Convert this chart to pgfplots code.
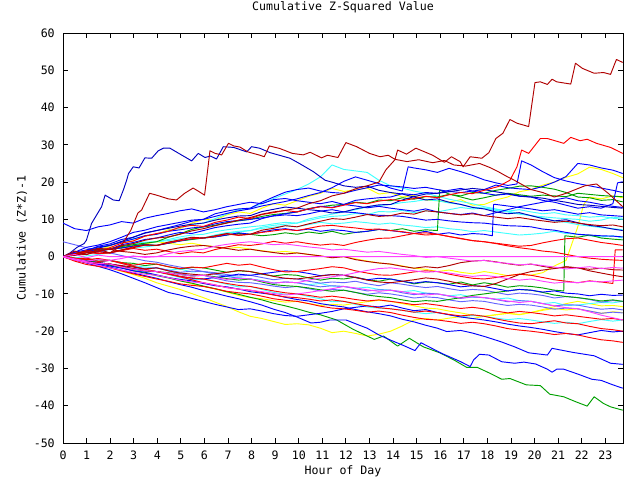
\documentclass[border=0pt]{standalone}
\usepackage{pgfplots}
\pgfplotsset{compat=1.18}
\usepackage{fontspec}
\setmainfont{DejaVu Sans Mono}
\definecolor{gR}{HTML}{FF0000}
\definecolor{gDR}{HTML}{B00000}
\definecolor{gG}{HTML}{00A000}
\definecolor{gB}{HTML}{0000FF}
\definecolor{gDB}{HTML}{0000C0}
\definecolor{gSB}{HTML}{6464FF}
\definecolor{gM}{HTML}{FF40FF}
\definecolor{gC}{HTML}{40FFFF}
\definecolor{gY}{HTML}{FFFF00}
\begin{document}
\fontsize{8.7}{10}\selectfont
\begin{tikzpicture}
\path[use as bounding box] (0,0) rectangle (480pt,360pt);
\begin{axis}[
 at={(47.25pt,27.75pt)}, anchor=south west, scale only axis,
 width=420pt, height=307.5pt,
 xmin=0, xmax=23.75, ymin=-50, ymax=60,
 xtick={0,1,...,23}, ytick={-50,-40,...,60},
 tick align=inside, major tick length=3.75pt,
 axis line style={line width=0.75pt},
 every tick/.style={black, line width=0.75pt},
 x filter/.expression={x*0.9924},
 title={Cumulative Z-Squared Value},
 xlabel={Hour of Day},
 ylabel={Cumulative (Z*Z)-1},
 title style={at={(axis description cs:0.5,1.0439)}, anchor=center},
 xlabel style={at={(axis description cs:0.5,-0.0683)}, anchor=center},
 ylabel style={at={(axis description cs:-0.0732,0.5)}, anchor=center},
 xticklabel style={anchor=center, yshift=-9pt},
 yticklabel style={anchor=east, inner sep=0pt, xshift=-6pt},
 /pgf/number format/assume math mode=true,
 no markers, clip=true,
 every axis plot/.append style={line width=0.7pt, line join=round},
]
% yellow
\addplot[gY] coordinates {(0,0)(.5,.5)(1,1.8)(1.5,1.5)(2,3)(2.5,3.8)(3,4.2)(3.5,5.5)(4,6)(4.5,7.2)(5,7.5)(5.5,9)(6,10)(6.5,9.8)(7,11.2)(7.5,12)(8,11.6)(8.5,13)(9,14.2)(9.5,13.8)(10,15)(10.5,16.2)(11,17)(11.5,18.3)(12,17.5)(12.5,17.9)(13,18.4)(13.5,16.8)(14,17.2)(14.5,16)(15,16.4)(15.5,15.2)(16,15)(16.5,14.6)(17,15.3)(17.5,13.8)(18,14)(18.5,15.2)(19,16)(19.5,17.4)(20,18)(20.5,19.2)(21,20)(21.5,21.3)(22,22.2)(22.5,24)(23,23.4)(23.5,22.3)(23.92,21.2)};
\addplot[gY] coordinates {(0,0)(.5,.6)(1,1.2)(1.5,1.9)(2,2.6)(2.5,2.2)(3,3)(3.5,3.4)(4,4)(4.5,3.6)(5,3.2)(5.5,3.6)(6,3)(6.5,2.7)(7,2.2)(7.5,2.5)(8,2)(8.5,1.6)(9,1.2)(9.5,1.4)(10,1)(10.5,.6)(11,.2)(11.5,-.3)(12,0)(12.5,-.6)(13,-1.2)(13.5,-1.7)(14,-2)(14.5,-2.5)(15,-3.1)(15.5,-3.4)(16,-4)(16.5,-3.6)(17,-4.2)(17.5,-4.6)(18,-4)(18.5,-4.5)(19,-5.1)(19.5,-4.7)(20,-5)(20.5,-4.3)(21,-2.5)(21.5,-1)(22,8)(22.25,14)(22.5,16)(23,15.5)(23.5,16.3)(23.92,15.8)};
\addplot[gY] coordinates {(0,0)(.5,-.7)(1,-1.4)(1.5,-1.8)(2,-2)(2.5,-2.8)(3,-3.6)(3.5,-4.3)(4,-5)(4.5,-5.6)(5,-6.4)(5.5,-7.3)(6,-8)(6.5,-8.7)(7,-9.5)(7.5,-10.4)(8,-11)(8.5,-11.3)(9,-11.8)(9.5,-12.2)(10,-12)(10.5,-12.6)(11,-13.1)(11.5,-12.8)(12,-13)(12.5,-12.5)(13,-12.1)(13.5,-11.7)(14,-12)(14.5,-12.6)(15,-13.2)(15.5,-13.8)(16,-14)(16.5,-14.6)(17,-15.1)(17.5,-15.7)(18,-16)(18.5,-15.6)(19,-15.2)(19.5,-15.5)(20,-15)(20.5,-14.2)(21,-13.4)(21.5,-12.6)(22,-12)(22.5,-12.6)(23,-13.2)(23.5,-13.1)(23.92,-13.4)};
\addplot[gY] coordinates {(0,0)(.5,-.8)(1,-1.6)(1.5,-2.3)(2,-3)(2.5,-3.9)(3,-4.8)(3.5,-5.8)(4,-7)(4.5,-7.9)(5,-8.8)(5.5,-9.9)(6,-11)(6.5,-12.2)(7,-13.4)(7.5,-14.8)(8,-16)(8.5,-16.6)(9,-17.4)(9.5,-18.2)(10,-18)(10.5,-18.3)(11,-19.2)(11.5,-20.4)(12,-20)(12.5,-20.6)(13,-21.3)(13.5,-20.8)(14,-20)(14.5,-18.6)(15,-17)(15.5,-16.6)(16,-17)(16.5,-16.5)(17,-16.1)(17.5,-16.6)(18,-16)(18.5,-15.6)(19,-15.2)(19.5,-15.6)(20,-15)(20.5,-14.4)(21,-13.9)(21.5,-14.3)(22,-14)(22.5,-14.6)(23,-15.2)(23.5,-14.8)(23.92,-15)};
% cyan
\addplot[gC] coordinates {(0,0)(.5,.3)(1,1.1)(1.5,1.6)(2,2)(2.5,2.6)(3,3.4)(3.5,3.7)(4,4)(4.5,4.6)(5,5.3)(5.5,5.8)(6,6)(6.5,6.7)(7,7.2)(7.5,7.6)(8,8)(8.5,8.3)(9,8.8)(9.5,9.2)(10,9)(10.5,9.7)(11,10.4)(11.5,10.8)(12,11)(12.5,11.6)(13,11.3)(13.5,12.1)(14,12)(14.5,12.4)(15,11.8)(15.5,12.3)(16,12)(16.5,12.6)(17,13.2)(17.5,12.8)(18,13)(18.5,12.7)(19,12.2)(19.5,12.6)(20,12)(20.5,11.5)(21,11.8)(21.5,11.2)(22,11)(22.5,10.6)(23,10.8)(23.5,10.3)(23.92,10)};
\addplot[gC] coordinates {(0,0)(.5,-.4)(1,.2)(1.5,.6)(2,1)(2.5,1.7)(3,2.3)(3.5,2.6)(4,3)(4.5,3.8)(5,4.3)(5.5,4.6)(6,5)(6.5,5.7)(7,6.4)(7.5,6.8)(8,7)(8.5,7.9)(9,8.4)(9.5,8.7)(10,9)(10.5,10.1)(11,10.8)(11.5,11.4)(12,12)(12.5,12.6)(13,13.3)(13.5,13.7)(14,14)(14.5,14.5)(15,14.8)(15.5,15.3)(16,15)(16.5,14.4)(17,14)(17.5,13.3)(18,13)(18.5,12.4)(19,12)(19.5,11.4)(20,11)(20.5,10.7)(21,10.4)(21.5,10.2)(22,10)(22.5,9.5)(23,9.8)(23.5,10.6)(23.92,10.3)};
\addplot[gC] coordinates {(0,0)(.5,.6)(1,1.4)(1.5,1.8)(2,2)(2.5,2.8)(3,3.6)(3.5,3.9)(4,4)(4.5,4.3)(5,4.8)(5.5,5.2)(6,5)(6.5,5.8)(7,6.4)(7.5,6.6)(8,7)(8.5,7.6)(9,7.9)(9.5,8.3)(10,8)(10.5,8.6)(11,9.2)(11.5,8.8)(12,9)(12.5,9.4)(13,9.1)(13.5,8.7)(14,9)(14.5,8.5)(15,8.2)(15.5,7.8)(16,8)(16.5,7.5)(17,7.2)(17.5,6.7)(18,7)(18.5,6.6)(19,6.2)(19.5,5.8)(20,6)(20.5,6.3)(21,6.8)(21.5,6.2)(22,6)(22.5,5.6)(23,5.3)(23.5,5.6)(23.92,5)};
\addplot[gC] coordinates {(0,0)(.5,.8)(1,1.6)(1.5,2.5)(2,3)(2.5,3.9)(3,4.8)(3.5,5.6)(4,6)(4.5,6.9)(5,7.8)(5.5,8.6)(6,9)(6.5,10.2)(7,11.4)(7.5,12.6)(8,13)(8.5,14.2)(9,15.6)(9.5,16.8)(10,18)(10.5,19.5)(11,21.4)(11.5,24.6)(12,23.4)(12.5,23)(13,22.6)(13.5,20.5)(14,19)(14.5,18.4)(15,17.6)(15.5,17)(16,16.2)(16.5,15.4)(17,14.8)(17.5,14.2)(18,13.4)(18.5,12.8)(19,12.2)(19.5,11.6)(20,11)(20.5,10.4)(21,9.6)(21.5,9.2)(22,8.6)(22.5,8.2)(23,7.8)(23.5,7.5)(23.92,7.2)};
\addplot[gC] coordinates {(0,0)(.5,-.6)(1,-1.1)(1.5,-.8)(2,-1)(2.5,-1.6)(3,-2.4)(3.5,-2.8)(4,-3)(4.5,-3.6)(5,-3.3)(5.5,-4.1)(6,-4)(6.5,-4.6)(7,-5.2)(7.5,-5.6)(8,-6)(8.5,-6.4)(9,-7.1)(9.5,-6.8)(10,-7)(10.5,-7.5)(11,-7.2)(11.5,-7.9)(12,-8)(12.5,-8.5)(13,-8.2)(13.5,-8.8)(14,-9)(14.5,-9.4)(15,-9.1)(15.5,-9.8)(16,-10)(16.5,-10.5)(17,-10.2)(17.5,-10.9)(18,-11)(18.5,-11.4)(19,-11.1)(19.5,-11.8)(20,-12)(20.5,-12.6)(21,-12.3)(21.5,-13.1)(22,-13)(22.5,-12.6)(23,-12.3)(23.5,-12.4)(23.92,-12)};
\addplot[gC] coordinates {(0,0)(.5,-.6)(1,-1.4)(1.5,-2.1)(2,-2)(2.5,-2.8)(3,-3.5)(3.5,-4.1)(4,-4)(4.5,-4.8)(5,-5.6)(5.5,-6.2)(6,-6)(6.5,-6.7)(7,-7.4)(7.5,-8.1)(8,-8)(8.5,-8.8)(9,-9.6)(9.5,-10.1)(10,-10)(10.5,-10.7)(11,-11.3)(11.5,-12.1)(12,-12)(12.5,-12.8)(13,-13.5)(13.5,-13.8)(14,-14)(14.5,-14.4)(15,-14.9)(15.5,-15.3)(16,-15)(16.5,-15.6)(17,-16.1)(17.5,-15.8)(18,-16)(18.5,-16.5)(19,-16.9)(19.5,-16.6)(20,-17)(20.5,-17.5)(21,-17.9)(21.5,-17.6)(22,-18)(22.5,-17.4)(23,-16.9)(23.5,-17.3)(23.92,-17)};
% slate blue
\addplot[gSB] coordinates {(0,4)(.5,3.2)(1,2.4)(1.5,1.6)(2,1)(2.5,.3)(3,-.4)(3.5,-1.1)(4,-1.5)(4.5,-2.2)(5,-2.8)(5.5,-3.4)(6,-4)(6.5,-4.3)(7,-4.8)(7.5,-5.2)(8,-5)(8.5,-5.6)(9,-6.2)(9.5,-5.8)(10,-6)(10.5,-6.6)(11,-7.1)(11.5,-6.8)(12,-7)(12.5,-6.6)(13,-7.3)(13.5,-7.8)(14,-7)(14.5,-7.4)(15,-7.9)(15.5,-8.3)(16,-8)(16.5,-8.6)(17,-9.1)(17.5,-8.8)(18,-9)(18.5,-9.6)(19,-10.2)(19.5,-9.8)(20,-10)(20.5,-10.4)(21,-11.1)(21.5,-10.7)(22,-11)(22.5,-11.5)(23,-12.2)(23.5,-11.8)(23.92,-12)};
\addplot[gSB] coordinates {(0,0)(.5,-.4)(1,-.9)(1.5,-1.5)(2,-1)(2.5,-1.8)(3,-2.6)(3.5,-3.2)(4,-3)(4.5,-3.6)(5,-4.2)(5.5,-3.9)(6,-4)(6.5,-4.7)(7,-5.3)(7.5,-5.8)(8,-6)(8.5,-6.5)(9,-7.1)(9.5,-6.8)(10,-7)(10.5,-7.6)(11,-8.1)(11.5,-7.8)(12,-8)(12.5,-8.6)(13,-9.2)(13.5,-8.9)(14,-9)(14.5,-9.7)(15,-10.2)(15.5,-9.8)(16,-10)(16.5,-10.6)(17,-11.2)(17.5,-10.8)(18,-11)(18.5,-11.5)(19,-12.1)(19.5,-11.8)(20,-12)(20.5,-12.6)(21,-13.2)(21.5,-12.9)(22,-13)(22.5,-13.6)(23,-14.1)(23.5,-13.9)(23.92,-14.3)};
\addplot[gSB] coordinates {(0,0)(.5,-1)(1,-1.6)(1.5,-2.2)(2,-2)(2.5,-2.5)(3,-3.2)(3.5,-3.4)(4,-3)(4.5,-3.8)(5,-4.6)(5.5,-5.1)(6,-5)(6.5,-5.8)(7,-6.5)(7.5,-6.9)(8,-7)(8.5,-7.4)(9,-7.9)(9.5,-8.3)(10,-8)(10.5,-8.6)(11,-9.2)(11.5,-8.8)(12,-9)(12.5,-9.6)(13,-10.1)(13.5,-9.7)(14,-10)(14.5,-10.5)(15,-11.1)(15.5,-10.8)(16,-11)(16.5,-11.6)(17,-12.1)(17.5,-11.8)(18,-12)(18.5,-12.6)(19,-13.1)(19.5,-12.8)(20,-13)(20.5,-13.5)(21,-14.1)(21.5,-13.8)(22,-14)(22.5,-14.6)(23,-15.2)(23.5,-14.9)(23.92,-15.1)};
% green
\addplot[gG] coordinates {(0,0)(.5,.6)(1,1.1)(1.5,1.8)(2,2)(2.5,2.7)(3,3.2)(3.5,3.6)(4,4)(4.5,5.2)(5,6.1)(5.5,7.3)(6,8)(6.5,8.4)(7,9.1)(7.5,9.6)(8,10)(8.5,10.8)(9,11.3)(9.5,11.6)(10,12)(10.5,12.9)(11,13.4)(11.5,13.8)(12,14)(12.5,14.6)(13,14.3)(13.5,15.2)(14,15)(14.5,15.8)(15,15.4)(15.5,16.1)(16,16)(16.5,16.7)(17,16.3)(17.5,17.2)(18,17)(18.5,17.8)(19,18.3)(19.5,18.9)(20,19)(20.5,18.6)(21,18.1)(21.5,17.2)(22,16)(22.5,15.8)(23,15.1)(23.5,15.3)(23.92,14.7)};
\addplot[gG] coordinates {(0,0)(.5,-.5)(1,-.4)(1.5,-1.2)(2,-1)(2.5,-1.6)(3,-1.8)(3.5,-2.4)(4,-2)(4.5,-2.7)(5,-3.3)(5.5,-2.9)(6,-3)(6.5,-3.6)(7,-4.2)(7.5,-3.8)(8,-4)(8.5,-4.7)(9,-5.2)(9.5,-4.8)(10,-5)(10.5,-5.7)(11,-6.3)(11.5,-5.8)(12,-6)(12.5,-5.5)(13,-6.2)(13.5,-6.6)(14,-6)(14.5,-6.6)(15,-7.3)(15.5,-6.8)(16,-7)(16.5,-7.4)(17,-6.8)(17.5,-7.6)(18,-7)(18.5,-7.5)(19,-8.2)(19.5,-7.8)(20,-8)(20.5,-8.4)(21,-9)(21.4,-9.2)(21.45,5.6)(22,5.2)(22.5,5.8)(23,5)(23.5,4.7)(23.92,4.5)};
\addplot[gG] coordinates {(0,0)(.5,.4)(1,1.1)(1.5,1.5)(2,2)(2.5,2.4)(3,2.9)(3.5,3.3)(4,3)(4.5,3.6)(5,4.2)(5.5,4.6)(6,5)(6.5,5.3)(7,5.8)(7.5,6.2)(8,6)(8.5,5.6)(9,5.9)(9.5,6.4)(10,6)(10.5,6.6)(11,6.2)(11.5,6.8)(12,6)(12.5,6.5)(13,6.8)(13.5,7.3)(14,7)(14.5,7.5)(15,6.8)(15.5,7.2)(16,7)(16.1,17.9)(16.5,16.8)(17,16)(17.5,15.2)(18,15.8)(18.5,16.5)(19,17)(19.5,16.6)(20,16.2)(20.5,16.5)(21,16.3)(21.5,16.1)(22,17)(22.5,16.7)(23,16.4)(23.5,16.2)(23.92,16.1)};
\addplot[gG] coordinates {(0,0)(.5,-.5)(1,-1.2)(1.5,-1.6)(2,-2)(2.5,-2.6)(3,-3.3)(3.5,-3.8)(4,-4)(4.5,-4.3)(5,-4.8)(5.5,-5.2)(6,-5)(6.5,-5.4)(7,-5.9)(7.5,-6.3)(8,-6)(8.5,-6.8)(9,-7.5)(9.5,-7.8)(10,-8)(10.5,-8.4)(11,-8.9)(11.5,-9.3)(12,-9)(12.5,-9.6)(13,-10.3)(13.5,-10.7)(14,-11)(14.5,-11.6)(15,-12.1)(15.5,-11.8)(16,-12)(16.5,-11.5)(17,-11)(17.5,-10.4)(18,-10)(18.5,-9.6)(19,-9.2)(19.5,-8.8)(20,-9)(20.5,-9.6)(21,-10.3)(21.5,-10.7)(22,-11)(22.5,-11.4)(23,-11.9)(23.5,-11.6)(23.92,-12)};
\addplot[gG] coordinates {(0,0)(.5,-.4)(1,-1.1)(1.5,-1.6)(2,-2.3)(2.5,-2.9)(3,-3.8)(3.5,-4.4)(4,-5.1)(4.5,-5.7)(5,-6.5)(5.5,-7.1)(6,-7.9)(6.5,-8.6)(7,-9.4)(7.5,-10.1)(8,-10.9)(8.5,-11.6)(9,-12.5)(9.5,-13.2)(10,-14)(10.5,-14.9)(11,-15.6)(11.7,-17)(12.4,-19.5)(13.3,-22.2)(13.7,-21.3)(14.3,-24)(14.8,-21.9)(15.4,-24.2)(16.1,-25.8)(16.7,-27.7)(17.25,-29.7)(17.7,-29.7)(18.25,-31.3)(18.75,-32.9)(19.1,-32.7)(19.8,-34.4)(20.4,-34.6)(20.8,-36.9)(21.4,-37.6)(21.9,-38.9)(22.4,-40.1)(22.7,-37.6)(23.1,-39.4)(23.4,-40.3)(23.92,-41.2)};
% blue
\addplot[gB] coordinates {(0,0)(.5,.8)(1,1.2)(1.5,2.1)(2,2)(2.5,3.2)(3,3.8)(3.5,4.6)(4,5)(4.5,5.8)(5,6.5)(5.5,6.2)(6,7)(6.5,7.8)(7,8.3)(7.5,8.7)(8,9)(8.5,10.2)(9,11)(9.5,11.5)(10,12)(10.5,12.8)(11,13.5)(11.5,13.2)(12,14)(12.5,15.1)(13,15.5)(13.5,15.8)(14,16)(14.5,16.9)(15,16.6)(15.5,17.2)(16,17)(16.5,17.8)(17,18.3)(17.5,17.6)(18,18)(18.5,19.2)(19,18.5)(19.5,18.2)(20,18)(20.5,18.8)(21,20)(21.5,21.5)(22,25)(22.5,24.6)(23,23.8)(23.5,23.2)(23.92,22.3)};
\addplot[gB] coordinates {(0,0)(.5,1.2)(1,2.5)(1.5,3.1)(2,4)(2.5,5.2)(3,6.5)(3.5,7.1)(4,8)(4.5,8.6)(5,9.2)(5.5,9.8)(6,10)(6.5,11.5)(7,12.2)(7.5,12.8)(8,13)(8.5,14.6)(9,16)(9.5,17.3)(10,18)(10.5,18.4)(11,17.6)(11.5,17.2)(12,17)(12.5,17.8)(13,18.5)(13.5,19.2)(14,19)(14.5,18.7)(15,18.3)(15.5,18.6)(16,18)(16.5,17.5)(17,17.2)(17.5,17.6)(18,17)(18.5,16.5)(19,16.8)(19.5,16.2)(20,16)(20.5,15.1)(21,14.6)(21.5,13.8)(22,13)(22.5,13.4)(23,13)(23.5,14.2)(23.7,19.8)(23.92,20.1)};
\addplot[gB] coordinates {(0,0)(.5,1.2)(1,1.8)(1.5,2.6)(2,3)(2.5,3.9)(3,4.7)(3.5,5.6)(4,6)(4.5,6.8)(5,7.2)(5.5,7.7)(6,8)(6.5,8.8)(7,9.4)(7.5,9.7)(8,10)(8.5,10.4)(9,10.9)(9.5,11.2)(10,11)(10.5,11.5)(11,12.2)(11.5,12.6)(12,12)(12.5,11.8)(13,11.4)(13.5,11.1)(14,11)(14.5,10.8)(15,10.3)(15.5,9.8)(16,10)(16.5,9.6)(17,9.3)(17.5,9.1)(18,9)(18.5,8.6)(19,8.3)(19.5,8.2)(20,8)(20.5,7.4)(21,7.1)(21.5,6.5)(22,6)(22.5,5.8)(23,5.6)(23.5,5.5)(23.92,5.3)};
\addplot[gB] coordinates {(0,0)(.5,.5)(1,1.1)(1.5,1.4)(2,2)(2.5,2.3)(3,2.8)(3.5,3.2)(4,3)(4.5,3.6)(5,4.2)(5.5,4.8)(6,5)(6.5,5.3)(7,5.8)(7.5,6.4)(8,6)(8.5,6.6)(9,7.2)(9.5,7.5)(10,7)(10.5,7.4)(11,6.8)(11.5,7.2)(12,7)(12.5,6.5)(13,6.8)(13.5,7.3)(14,7)(14.5,6.6)(15,6.2)(15.5,6.8)(16,6)(16.5,6.4)(17,5.8)(17.5,6.2)(18,6)(18.35,5.6)(18.4,14)(18.5,14)(19,13.6)(19.5,13.2)(20,12.8)(20.5,12.3)(21,12.6)(21.5,12)(22,11.4)(22.5,11.8)(23,11.2)(23.5,11)(23.92,10.8)};
\addplot[gB] coordinates {(0,9)(.5,7.5)(1,7)(1.5,8)(2,8.5)(2.5,9.4)(3,9)(3.5,10.3)(4,11)(4.5,11.6)(5,12.3)(5.5,12.8)(6,12)(6.5,12.6)(7,13.4)(7.5,14)(8,14.6)(8.5,14.2)(9,15.3)(9.5,15.6)(10,15)(10.5,14.6)(11,14.2)(11.5,14.8)(12,14)(12.5,13.6)(13,13.1)(13.5,13.5)(14,13)(14.5,12.6)(15,12.2)(15.5,12.8)(16,12)(16.5,11.6)(17,11.3)(17.5,11.7)(18,11)(18.5,11.8)(19,12.6)(19.5,13.4)(20,14)(20.5,14.6)(21,15.2)(21.5,15.8)(22,15)(22.5,14.6)(23,14)(23.5,13.5)(23.92,13.2)};
\addplot[gB] coordinates {(0,0)(.5,.7)(1,1.5)(1.5,2.8)(2,3.4)(2.5,4.6)(3,5.2)(3.5,6.4)(4,7)(4.5,7.8)(5,8.6)(5.5,9.5)(6,10)(6.5,10.8)(7,11.6)(7.5,12.3)(8,12.8)(8.5,13.6)(9,14.2)(9.5,14.8)(10,15.5)(10.5,16.4)(11,17.2)(11.5,18.5)(12,20.2)(12.5,21.4)(13,20.5)(13.5,19.6)(14,18.4)(14.5,17.6)(14.75,24.1)(15,23.8)(15.5,23.3)(16,22.6)(16.5,23.7)(17,22.8)(17.5,21.8)(18,20.6)(18.5,19.8)(19,19.1)(19.4,19.5)(19.6,25.7)(20,24.6)(20.5,22.8)(21,21.2)(21.5,20.3)(22,19.6)(22.5,19)(23,18.4)(23.5,17.8)(23.92,17.2)};
\addplot[gB] coordinates {(0,0)(.5,-.7)(1,-1.4)(1.5,-1.6)(2,-2)(2.5,-2.6)(3,-3.3)(3.5,-3.7)(4,-4)(4.5,-4.6)(5,-5.3)(5.5,-5.8)(6,-6)(6.5,-5.6)(7,-5.2)(7.5,-4.7)(8,-5)(8.5,-4.6)(9,-4.2)(9.5,-3.8)(10,-4)(10.5,-4.5)(11,-5.1)(11.5,-4.8)(12,-5)(12.5,-5.6)(13,-6.2)(13.5,-5.8)(14,-6)(14.5,-6.6)(15,-7.1)(15.5,-6.7)(16,-7)(16.5,-7.5)(17,-8.1)(17.5,-7.8)(18,-8)(18.5,-8.6)(19,-9.2)(19.5,-8.8)(20,-9)(20.5,-9.5)(21,-9.2)(21.5,-9.8)(22,-10)(22.5,-10.5)(23,-10.1)(23.5,-10.4)(23.92,-10.3)};
\addplot[gB] coordinates {(0,0)(.5,-.8)(1,-1.7)(1.5,-2.6)(2,-3.5)(2.5,-4.6)(3,-5.8)(3.5,-7)(4,-8.3)(4.5,-9.6)(5,-10.3)(5.5,-11.2)(6,-12)(6.5,-12.8)(7,-13.5)(7.5,-14.2)(8,-14)(8.5,-14.6)(9,-15.3)(9.5,-15.8)(10,-16)(10.5,-15.6)(11,-15.2)(11.5,-14.7)(12,-14)(12.5,-13.6)(13,-13.2)(13.5,-13.5)(14,-13)(14.5,-13.8)(15,-14.5)(15.5,-14.2)(16,-15)(16.5,-15.6)(17,-16.2)(17.5,-16.6)(18,-17)(18.5,-17.5)(19,-18.1)(19.5,-18.6)(20,-19)(20.5,-19.5)(21,-20.1)(21.5,-20.6)(22,-21)(22.5,-20.4)(23,-19.8)(23.5,-20.2)(23.92,-20)};
\addplot[gB] coordinates {(0,0)(.5,-.6)(1,-1.4)(1.5,-1.8)(2,-2.5)(2.5,-3.1)(3,-3.8)(3.5,-4.2)(4,-4.9)(4.5,-5.6)(5,-6.1)(5.5,-6.5)(6,-7.2)(6.5,-7.8)(7,-8.1)(7.5,-8.7)(8,-9.4)(8.5,-9.8)(9,-10.2)(9.5,-10.9)(10,-11.5)(10.5,-11.9)(11,-12.6)(11.5,-13.1)(12,-13.5)(12.5,-14.2)(13,-14.8)(13.5,-15.3)(14,-15.9)(14.5,-16.8)(15,-17.5)(15.5,-18.4)(16,-19.2)(16.4,-20.1)(17,-19.8)(17.5,-20.5)(18,-21.4)(18.7,-22.8)(19.3,-24.2)(19.9,-25.8)(20.7,-26.4)(20.9,-24.6)(21.8,-25.7)(22.7,-26.6)(23.4,-28.6)(23.92,-28.9)};
\addplot[gB] coordinates {(0,0)(.5,-.7)(1,-1.2)(1.5,-2.1)(2,-2.8)(2.5,-3.6)(3,-4.4)(3.5,-5.1)(4,-5.8)(4.5,-6.7)(5,-7.5)(5.5,-8.2)(6,-9.1)(6.5,-9.8)(7,-10.6)(7.5,-11.3)(8,-12.1)(8.5,-13)(9,-14.1)(9.5,-15)(10,-16.2)(10.3,-17)(10.6,-17.8)(11,-17.6)(11.4,-17)(12.1,-17)(12.5,-18)(13,-19.2)(13.5,-21)(14,-22.4)(14.5,-23.7)(15.04,-25.2)(15.3,-23.1)(16.2,-26)(17,-28.2)(17.4,-29.5)(17.55,-27.7)(17.8,-26.2)(18.2,-26.4)(18.75,-28.2)(19.3,-28.6)(19.7,-28.3)(20.2,-28.8)(20.7,-30.2)(20.9,-31)(21.1,-30.2)(21.4,-30.2)(22,-31.5)(22.6,-32.9)(23,-33.2)(23.5,-34.4)(23.92,-35.3)};
% dark blue
\addplot[gDB] coordinates {(0,0)(.5,.9)(1,1.4)(1.5,2.3)(2,3)(2.5,4.1)(3,5.2)(3.5,6.3)(4,7)(4.5,7.6)(5,8.2)(5.5,8.7)(6,9)(6.5,9.8)(7,10.4)(7.5,10.9)(8,11)(8.5,12.1)(9,12.7)(9.5,13.3)(10,13)(10.5,12.6)(11,12.3)(11.5,11.7)(12,12)(12.5,12.8)(13,13.4)(13.5,13.9)(14,14)(14.5,15.2)(15,16.1)(15.5,16.8)(16,17)(16.5,17.4)(17,17.9)(17.5,18.3)(18,18)(18.5,17.4)(19,16.9)(19.5,16.3)(20,16)(20.5,15.7)(21,15.1)(21.5,14.6)(22,14)(22.5,13.8)(23,13.5)(23.5,13.2)(23.92,13)};
\addplot[gDB] coordinates {(0,0)(.3,1)(.6,2.5)(.9,3.5)(1,4.4)(1.22,8.9)(1.65,13.4)(1.8,16.5)(2.15,15.2)(2.4,15)(2.58,17.9)(2.72,20.5)(2.8,22.3)(3,24.1)(3.25,23.8)(3.5,26.5)(3.79,26.4)(4.07,28.4)(4.29,29.1)(4.57,29.1)(5.14,27)(5.5,25.7)(5.78,27.7)(6.07,26.6)(6.3,27)(6.56,26.2)(6.85,29.5)(7.3,29.3)(7.85,28.1)(8.06,29.5)(8.4,29.1)(8.85,27.9)(9.7,26.4)(10.1,25)(10.7,22.8)(11.2,20.5)(11.6,19.8)(12,19)(12.5,18.6)(13,18.9)(13.5,17.8)(14,17.2)(14.5,16.8)(15,16)(15.5,15.2)(16,15.5)(16.5,14.6)(17,14)(17.5,13.2)(18,12.8)(18.5,12)(19,11.5)(19.5,11.8)(20,11)(20.5,10.2)(21,9.6)(21.5,9.9)(22,9.1)(22.5,8.4)(23,8)(23.5,7.4)(23.92,7)};
% red
\addplot[gR] coordinates {(0,0)(.5,.7)(1,1.3)(1.5,.8)(2,1)(2.5,1.6)(3,2.2)(3.5,1.7)(4,2)(4.5,1.4)(5,.8)(5.5,1.3)(6,1)(6.5,1.9)(7,2.6)(7.5,3.2)(8,3)(8.5,3.4)(9,4.1)(9.5,3.6)(10,4)(10.5,3.5)(11,3.1)(11.5,3.4)(12,3)(12.5,3.8)(13,4.4)(13.5,4.9)(14,5)(14.5,5.6)(15,6.2)(15.5,5.8)(16,6)(16.5,5.4)(17,4.9)(17.5,4.3)(18,4)(18.5,3.6)(19,3.2)(19.5,2.8)(20,3)(20.5,3.7)(21,4.3)(21.5,4.8)(22,5)(22.5,4.4)(23,3.8)(23.5,3.4)(23.92,3)};
\addplot[gR] coordinates {(0,0)(.5,-.6)(1,-.4)(1.5,-1.3)(2,-1)(2.5,-1.6)(3,-2.3)(3.5,-1.8)(4,-2)(4.5,-2.7)(5,-3.2)(5.5,-2.8)(6,-3)(6.5,-2.4)(7,-1.8)(7.5,-2.3)(8,-2)(8.5,-2.8)(9,-3.5)(9.5,-4.1)(10,-4)(10.5,-3.6)(11,-3.2)(11.5,-2.7)(12,-3)(12.5,-3.8)(13,-4.4)(13.5,-4.9)(14,-5)(14.5,-4.6)(15,-4.1)(15.5,-3.8)(16,-4)(16.5,-4.7)(17,-5.3)(17.5,-5.8)(18,-6)(18.5,-5.6)(19,-5.1)(19.5,-4.7)(20,-5)(20.5,-5.6)(21,-6.2)(21.5,-6.6)(22,-7)(22.5,-6.5)(23,-6.8)(23.5,-7.2)(23.6,1.8)(23.92,1.8)};
\addplot[gR] coordinates {(0,0)(.5,.6)(1,1.2)(1.5,.9)(2,1)(2.5,1.8)(3,2.6)(3.5,3.1)(4,3)(4.5,3.7)(5,4.3)(5.5,4.8)(6,5)(6.5,5.4)(7,6.1)(7.5,5.7)(8,6)(8.5,6.5)(9,6.9)(9.5,7.3)(10,7)(10.5,7.6)(11,8.2)(11.5,8.4)(12,8)(12.5,7.7)(13,7.3)(13.5,7.4)(14,7)(14.5,6.7)(15,6.2)(15.5,6.4)(16,6)(16.5,5.4)(17,4.8)(17.5,4.3)(18,4)(18.5,3.5)(19,2.9)(19.5,2.4)(20,2)(20.5,1.5)(21,1.2)(21.5,.6)(22,0)(22.5,-.4)(23,-.7)(23.5,-.9)(23.92,-1)};
\addplot[gR] coordinates {(0,0)(.5,-.4)(1,-.8)(1.5,-.5)(2,-1)(2.5,-1.8)(3,-2.6)(3.5,-3.4)(4,-4)(4.5,-4.6)(5,-5.3)(5.5,-5.7)(6,-6)(6.5,-6.6)(7,-7.2)(7.5,-7.7)(8,-8)(8.5,-8.6)(9,-9.2)(9.5,-9.7)(10,-10)(10.5,-10.4)(11,-10.9)(11.5,-10.6)(12,-11)(12.5,-11.5)(13,-11.9)(13.5,-11.6)(14,-12)(14.5,-12.4)(15,-12.9)(15.5,-12.6)(16,-13)(16.5,-13.5)(17,-13.9)(17.5,-13.6)(18,-14)(18.5,-14.6)(19,-15.1)(19.5,-14.7)(20,-15)(20.5,-15.4)(21,-15.9)(21.5,-15.6)(22,-16)(22.5,-16.4)(23,-16.8)(23.5,-16.6)(23.92,-17)};
\addplot[gR] coordinates {(0,0)(.5,-.9)(1,-1.6)(1.5,-1.8)(2,-2)(2.5,-2.7)(3,-3.3)(3.5,-3.8)(4,-4)(4.5,-4.7)(5,-5.4)(5.5,-6.2)(6,-7)(6.5,-7.6)(7,-8.3)(7.5,-8.7)(8,-9)(8.5,-9.6)(9,-10.3)(9.5,-10.8)(10,-11)(10.5,-11.4)(11,-11.9)(11.5,-11.6)(12,-12)(12.5,-12.6)(13,-13.2)(13.5,-13.7)(14,-14)(14.5,-14.4)(15,-14.9)(15.5,-14.6)(16,-15)(16.5,-15.5)(17,-15.9)(17.5,-15.6)(18,-16)(18.5,-16.7)(19,-17.3)(19.5,-17.8)(20,-18)(20.5,-17.6)(21,-17.2)(21.5,-17.8)(22,-18)(22.5,-18.7)(23,-19.3)(23.5,-19.6)(23.92,-20)};
\addplot[gR] coordinates {(0,0)(.5,-1.2)(1,-2.1)(1.5,-2.6)(2,-3)(2.5,-3.8)(3,-4.6)(3.5,-5.3)(4,-6)(4.5,-6.6)(5,-7.3)(5.5,-7.7)(6,-8)(6.5,-8.6)(7,-9.3)(7.5,-9.7)(8,-10)(8.5,-10.6)(9,-11.3)(9.5,-11.7)(10,-12)(10.5,-12.6)(11,-13.3)(11.5,-13.8)(12,-14)(12.5,-14.4)(13,-14.9)(13.5,-14.6)(14,-15)(14.5,-15.7)(15,-16.3)(15.5,-16.8)(16,-17)(16.5,-17.4)(17,-17.9)(17.5,-17.6)(18,-18)(18.5,-18.6)(19,-19.3)(19.5,-19.7)(20,-20)(20.5,-20.4)(21,-20.9)(21.5,-20.6)(22,-21)(22.5,-21.7)(23,-22.3)(23.5,-22.6)(23.92,-23)};
\addplot[gR] coordinates {(0,0)(.5,.8)(1,1.6)(1.5,1.2)(2,2.4)(2.5,3.6)(3,4.2)(3.5,5.5)(4,6.2)(4.5,6.8)(5,7.9)(5.5,8.4)(6,8.1)(6.5,9.2)(7,9.8)(7.5,10.6)(8,10.2)(8.5,11.3)(9,11.8)(9.5,12.4)(10,12)(10.5,12.8)(11,13.4)(11.5,13.1)(12,13.8)(12.5,14.5)(13,14.2)(13.5,14.9)(14,15.3)(14.5,15)(15,15.6)(15.5,16.2)(16,15.8)(16.5,16.6)(17,17.2)(17.5,16.9)(18,17.8)(18.6,18.8)(19.1,20.5)(19.4,24.1)(19.6,28.6)(19.9,27.7)(20.4,31.7)(20.7,31.7)(21.4,30.4)(21.7,32)(22.1,31.1)(22.4,31.5)(22.8,30.4)(23.4,29.3)(23.92,27.7)};
% dark red
\addplot[gDR] coordinates {(0,0)(.5,.4)(1,.6)(1.5,1.3)(2,1)(2.5,1.8)(3,2.4)(3.5,3.1)(4,3)(4.5,3.9)(5,4.5)(5.5,5.2)(6,5)(6.5,5.6)(7,6.2)(7.5,5.8)(8,6)(8.5,7.1)(9,7.6)(9.5,8.3)(10,8)(10.5,8.8)(11,9.5)(11.5,10.2)(12,10)(12.5,10.6)(13,11.3)(13.5,10.8)(14,11)(14.5,11.7)(15,11.4)(15.5,12.3)(16,12)(16.5,11.6)(17,11.2)(17.5,11.5)(18,11)(18.5,10.6)(19,10.2)(19.5,10.5)(20,10)(20.5,9.6)(21,9.2)(21.5,9.5)(22,9)(22.5,8.6)(23,8.3)(23.5,8.5)(23.92,8)};
\addplot[gDR] coordinates {(0,0)(.5,.8)(1,1.5)(1.5,2.2)(2,2)(2.5,1.4)(3,1.1)(3.5,.6)(4,1)(4.5,1.8)(5,2.4)(5.5,2.8)(6,3)(6.5,2.6)(7,2.2)(7.5,1.7)(8,2)(8.5,1.5)(9,1.1)(9.5,.7)(10,1)(10.5,.6)(11,.2)(11.5,-.3)(12,0)(12.5,-.8)(13,-1.3)(13.5,-1.7)(14,-2)(14.5,-2.6)(15,-3.1)(15.5,-2.7)(16,-3)(16.5,-2.4)(17,-1.6)(17.5,-1.2)(18,-1)(18.5,-1.4)(19,-1.9)(19.5,-2.3)(20,-2)(20.5,-2.6)(21,-3.1)(21.5,-2.8)(22,-3)(22.5,-3.4)(23,-3.1)(23.5,-3.5)(23.92,-3.6)};
\addplot[gDR] coordinates {(0,0)(.5,-.8)(1,-1.4)(1.5,-1.6)(2,-2)(2.5,-2.4)(3,-2.8)(3.5,-3.3)(4,-3)(4.5,-3.8)(5,-4.4)(5.5,-4.7)(6,-5)(6.5,-4.6)(7,-4.2)(7.5,-3.7)(8,-4)(8.5,-4.6)(9,-5.3)(9.5,-5.8)(10,-6)(10.5,-5.6)(11,-5.2)(11.5,-4.8)(12,-5)(12.5,-5.6)(13,-6.3)(13.5,-6.8)(14,-7)(14.5,-6.6)(15,-6.2)(15.5,-5.7)(16,-6)(16.5,-6.6)(17,-7.3)(17.5,-7.8)(18,-8)(18.5,-7.2)(19,-6)(19.5,-4.8)(20,-4)(20.5,-3.6)(21,-3.2)(21.5,-2.7)(22,-3)(22.5,-3.8)(23,-4.4)(23.5,-5)(23.92,-5.4)};
\addplot[gDR] coordinates {(0,0)(.5,.4)(1,1)(1.5,1.6)(2,2)(2.5,2.9)(3,3.5)(3.5,4.4)(4,5)(4.5,5.3)(5,6)(5.5,6.9)(6,7.5)(6.5,8.3)(7,9)(7.5,9.8)(8,10.5)(8.5,11.4)(9,12)(9.5,12.4)(10,13)(10.5,14.2)(11,15)(11.5,16.3)(12,17)(12.5,18.2)(13,19)(13.5,20)(13.8,23.3)(14.2,26.1)(14.7,25.5)(15.2,26)(15.8,25.2)(16.3,25.8)(16.7,24.6)(17.2,24.3)(17.8,25)(18.25,23.9)(18.6,22.8)(19,21.4)(19.2,20.8)(19.6,19.4)(20,18)(20.5,17.2)(21,16)(21.5,17)(22.3,19)(22.8,19.5)(23.3,17)(23.92,13.4)};
\addplot[gDR] coordinates {(0,0)(.5,1.5)(1,.5)(1.5,2)(2,1)(2.5,3)(2.9,7.1)(3.2,11.7)(3.36,12.5)(3.7,17)(4,16.5)(4.5,15.5)(4.85,15.2)(5.2,17)(5.56,18.4)(5.8,17.5)(6.05,16.5)(6.13,20.5)(6.28,28.4)(6.5,27.7)(6.78,27.3)(7.07,30.4)(7.3,29.7)(7.56,29.4)(7.9,28.1)(8.42,27.2)(8.6,26.8)(8.82,29.7)(9.27,29)(9.8,27.7)(10.27,27.3)(10.56,28)(11.05,26.5)(11.3,27.2)(11.75,26.6)(12.09,30.6)(12.55,29.5)(13.1,27.7)(13.55,26.8)(13.9,27.2)(14.19,26.1)(14.3,28.6)(14.68,27.5)(15.08,29.1)(15.8,27.2)(16.3,25.3)(16.6,26.8)(16.97,25.5)(17.1,24.1)(17.4,26.8)(17.9,26.4)(18.2,27.9)(18.5,31.7)(18.8,33.1)(19.1,36.8)(19.4,35.8)(19.9,34.9)(20.17,46.7)(20.4,46.9)(20.7,46.2)(20.9,47.6)(21.1,46.9)(21.7,46.3)(21.9,51.9)(22.2,50.5)(22.7,49.2)(23.1,49.4)(23.4,48.9)(23.65,52.9)(23.92,52.1)};
% magenta
\addplot[gM] coordinates {(0,0)(.5,-.6)(1,-1.2)(1.5,-.8)(2,-1)(2.5,-.5)(3,.2)(3.5,-.2)(4,0)(4.5,.8)(5,1.4)(5.5,1.7)(6,2)(6.5,2.8)(7,3.3)(7.5,3.7)(8,4)(8.5,3.6)(9,3.2)(9.5,3.4)(10,3)(10.5,2.6)(11,2.3)(11.5,1.8)(12,2)(12.5,1.6)(13,1.2)(13.5,1.4)(14,1)(14.5,.6)(15,.3)(15.5,-.2)(16,0)(16.5,-.4)(17,-.8)(17.5,-1.2)(18,-1)(18.5,-1.5)(19,-1.8)(19.5,-2.2)(20,-2)(20.5,-2.4)(21,-2.8)(21.5,-3.3)(22,-3)(22.5,-2.7)(23,-3.2)(23.5,-2.9)(23.92,-3.1)};
\addplot[gM] coordinates {(0,0)(.5,-.9)(1,-1.4)(1.5,-1.8)(2,-2)(2.5,-2.8)(3,-3.4)(3.5,-3.7)(4,-4)(4.5,-4.4)(5,-4.8)(5.5,-5.2)(6,-5)(6.5,-5.6)(7,-6.1)(7.5,-5.8)(8,-6)(8.5,-6.6)(9,-7.1)(9.5,-6.8)(10,-7)(10.5,-6.3)(11,-5.8)(11.5,-5.4)(12,-5)(12.5,-4.3)(13,-3.7)(13.5,-3.2)(14,-3)(14.5,-3.4)(15,-3.8)(15.5,-4.2)(16,-4)(16.5,-4.4)(17,-4.9)(17.5,-5.3)(18,-5)(18.5,-5.4)(19,-5.9)(19.5,-6.3)(20,-6)(20.5,-6.6)(21,-7.1)(21.5,-6.8)(22,-7)(22.5,-6.6)(23,-6.8)(23.5,-6.5)(23.92,-6.3)};
\addplot[gM] coordinates {(0,0)(.5,-.8)(1,-1.6)(1.5,-2.3)(2,-3)(2.5,-3.6)(3,-4.2)(3.5,-4.7)(4,-5)(4.5,-5.6)(5,-6.3)(5.5,-6.8)(6,-7)(6.5,-7.6)(7,-8.3)(7.5,-8.7)(8,-9)(8.5,-9.4)(9,-9.9)(9.5,-10.3)(10,-10)(10.5,-9.6)(11,-9.1)(11.5,-8.6)(12,-8)(12.5,-8.4)(13,-8.9)(13.5,-9.3)(14,-9)(14.5,-9.4)(15,-9.9)(15.5,-10.3)(16,-10)(16.5,-10.5)(17,-11.1)(17.5,-10.7)(18,-11)(18.5,-11.4)(19,-11.9)(19.5,-12.3)(20,-12)(20.5,-12.6)(21,-13.2)(21.5,-13.7)(22,-14)(22.5,-14.8)(23,-15.7)(23.5,-16.4)(23.92,-17)};
\addplot[gM] coordinates {(0,0)(.5,.6)(1,-.3)(1.5,.4)(2,0)(23.92,0)};
\end{axis}
\end{tikzpicture}
\end{document}
